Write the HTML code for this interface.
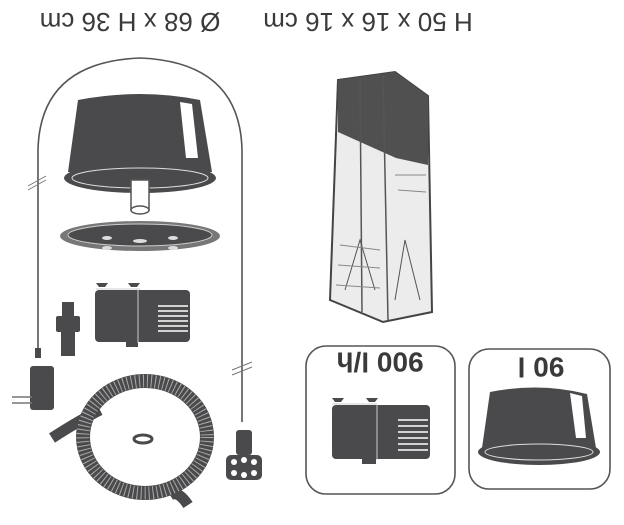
<!DOCTYPE html>
<html><head><meta charset="utf-8"><style>
html,body{margin:0;padding:0;background:#fff;}
svg{display:block}
text{font-family:"Liberation Sans",sans-serif;fill:#3a3a3a;}
</style></head><body>
<svg width="624" height="525" viewBox="0 0 624 525" xmlns="http://www.w3.org/2000/svg">
<text transform="translate(130,22) rotate(180)" font-size="26" text-anchor="middle" dominant-baseline="central">Ø 68 x H 36 cm</text>
<text transform="translate(368,22) rotate(180)" font-size="26" text-anchor="middle" dominant-baseline="central">H 50 x 16 x 16 cm</text>

<path d="M38,355 L38,150 Q40,62 140,58 Q240,62 242,150 L242,422" fill="none" stroke="#555" stroke-width="1.6"/>
<path d="M28,186 L46,176 M28,190 L46,180" stroke="#777" stroke-width="1"/>
<path d="M232,370 L252,362 M232,375 L252,367" stroke="#777" stroke-width="1"/>

<path d="M78,100 Q140,88 200,100 L212,172 L68,172 Z" fill="#4a4a4c"/>
<path d="M180,102 L192,104 L198,158 L186,158 Z" fill="#fff"/>
<ellipse cx="140" cy="178" rx="76" ry="15" fill="#4a4a4c"/>
<ellipse cx="140" cy="178" rx="68" ry="10" fill="none" stroke="#ddd" stroke-width="1"/>
<rect x="131" y="180" width="18" height="30" fill="#fff" stroke="#555" stroke-width="1.5"/>
<ellipse cx="140" cy="210" rx="9" ry="4" fill="#fff" stroke="#555" stroke-width="1.5"/>
<ellipse cx="140" cy="236" rx="80" ry="15" fill="#777"/>
<ellipse cx="140" cy="235" rx="72" ry="11" fill="#4a4a4c" stroke="#ccc"/>
<g fill="#ddd"><ellipse cx="107" cy="238" rx="5" ry="2"/><ellipse cx="173" cy="238" rx="5" ry="2"/><ellipse cx="107" cy="248" rx="5" ry="2"/><ellipse cx="173" cy="248" rx="5" ry="2"/><ellipse cx="140" cy="241" rx="7" ry="2"/></g>

<g fill="#4a4a4c">
<rect x="95" y="290" width="95" height="52" rx="4"/>
<rect x="126" y="342" width="12" height="5"/>
<path d="M96,283 h12 l-3,4 h-6z M128,283 h12 l-3,4 h-6z"/>
</g>
<line x1="138" y1="290" x2="138" y2="343" stroke="#ccc"/>
<line x1="96" y1="289" x2="140" y2="289" stroke="#ccc"/>
<g stroke="#fff" stroke-width="1.6"><line x1="158" y1="306" x2="188" y2="306"/><line x1="158" y1="311" x2="188" y2="311"/><line x1="158" y1="316" x2="188" y2="316"/><line x1="158" y1="321" x2="188" y2="321"/><line x1="158" y1="326" x2="188" y2="326"/><line x1="158" y1="331" x2="188" y2="331"/></g>

<rect x="62" y="302" width="12" height="16" fill="#4a4a4c"/>
<rect x="56" y="316" width="24" height="16" rx="2" fill="#4a4a4c"/>
<rect x="61" y="330" width="14" height="26" fill="#4a4a4c"/>

<rect x="35" y="348" width="6" height="10" fill="#4a4a4c"/>
<rect x="30" y="366" width="24" height="44" rx="3" fill="#4a4a4c"/>
<line x1="12" y1="397" x2="32" y2="397" stroke="#777" stroke-width="1.5"/>
<line x1="12" y1="403" x2="32" y2="403" stroke="#777" stroke-width="1.5"/>

<path d="M52,438 Q80,420 100,410" fill="none" stroke="#4a4a4c" stroke-width="11"/>
<path d="M170,495 Q178,490 188,505" fill="none" stroke="#4a4a4c" stroke-width="11"/>
<ellipse cx="145" cy="437" rx="62" ry="56" fill="none" stroke="#4a4a4c" stroke-width="14"/>
<ellipse cx="145" cy="437" rx="62" ry="56" fill="none" stroke="#aaa" stroke-width="13" stroke-dasharray="1 3"/>
<ellipse cx="143" cy="439" rx="9" ry="4" fill="none" stroke="#4a4a4c" stroke-width="3"/>

<rect x="236" y="430" width="16" height="25" rx="3" fill="#4a4a4c"/>
<rect x="226" y="455" width="36" height="25" rx="5" fill="#4a4a4c"/>
<g fill="#fff"><circle cx="234" cy="462" r="3"/><circle cx="244" cy="460" r="3"/><circle cx="254" cy="462" r="3"/><circle cx="234" cy="473" r="3"/><circle cx="244" cy="475" r="3"/><circle cx="254" cy="473" r="3"/></g>

<path d="M338,80 L395,72 L428,96 L432,312 L383,322 L330,300 Z" fill="#ececec" stroke="#444" stroke-width="2"/>
<path d="M338,80 L395,72 L428,96 L428,165 L396,158 L338,132 Z" fill="#505050"/>
<path d="M383,76 L388,320 M360,80 L362,312" stroke="#555" stroke-width="1.5"/>
<path d="M345,290 L360,240 L375,290 M395,300 L405,240 L420,300" stroke="#555" fill="none"/>
<g stroke="#888" stroke-width="1"><line x1="395" y1="175" x2="426" y2="175"/><line x1="398" y1="190" x2="426" y2="192"/><line x1="340" y1="245" x2="380" y2="250"/><line x1="338" y1="265" x2="380" y2="268"/><line x1="336" y1="285" x2="380" y2="288"/></g>

<rect x="306" y="346" width="149" height="148" rx="20" fill="#fff" stroke="#555" stroke-width="1.6"/>
<text transform="translate(380,362) rotate(180)" font-size="28" font-weight="bold" text-anchor="middle" dominant-baseline="central">900 l/h</text>
<g fill="#4a4a4c">
<rect x="332" y="405" width="98" height="54" rx="4"/>
<rect x="362" y="459" width="14" height="5"/>
<path d="M332,398 h12 l-3,4 h-6z M366,398 h12 l-3,4 h-6z"/>
</g>
<line x1="377" y1="405" x2="377" y2="460" stroke="#ccc"/>
<line x1="332" y1="404" x2="377" y2="404" stroke="#ccc"/>
<g stroke="#fff" stroke-width="1.6"><line x1="398" y1="420" x2="428" y2="420"/><line x1="398" y1="426" x2="428" y2="426"/><line x1="398" y1="432" x2="428" y2="432"/><line x1="398" y1="438" x2="428" y2="438"/><line x1="398" y1="444" x2="428" y2="444"/><line x1="398" y1="450" x2="428" y2="450"/></g>

<rect x="469" y="349" width="141" height="140" rx="20" fill="#fff" stroke="#555" stroke-width="1.6"/>
<text transform="translate(541,367) rotate(180)" font-size="28" font-weight="bold" text-anchor="middle" dominant-baseline="central">90 l</text>
<path d="M490,392 Q540,382 587,394 L596,448 L482,448 Z" fill="#4a4a4c"/>
<path d="M570,393 L582,396 L586,438 L576,438 Z" fill="#fff"/>
<ellipse cx="539" cy="452" rx="61" ry="13" fill="#4a4a4c"/>
<ellipse cx="539" cy="452" rx="54" ry="8" fill="none" stroke="#ddd"/>
</svg>
</body></html>
